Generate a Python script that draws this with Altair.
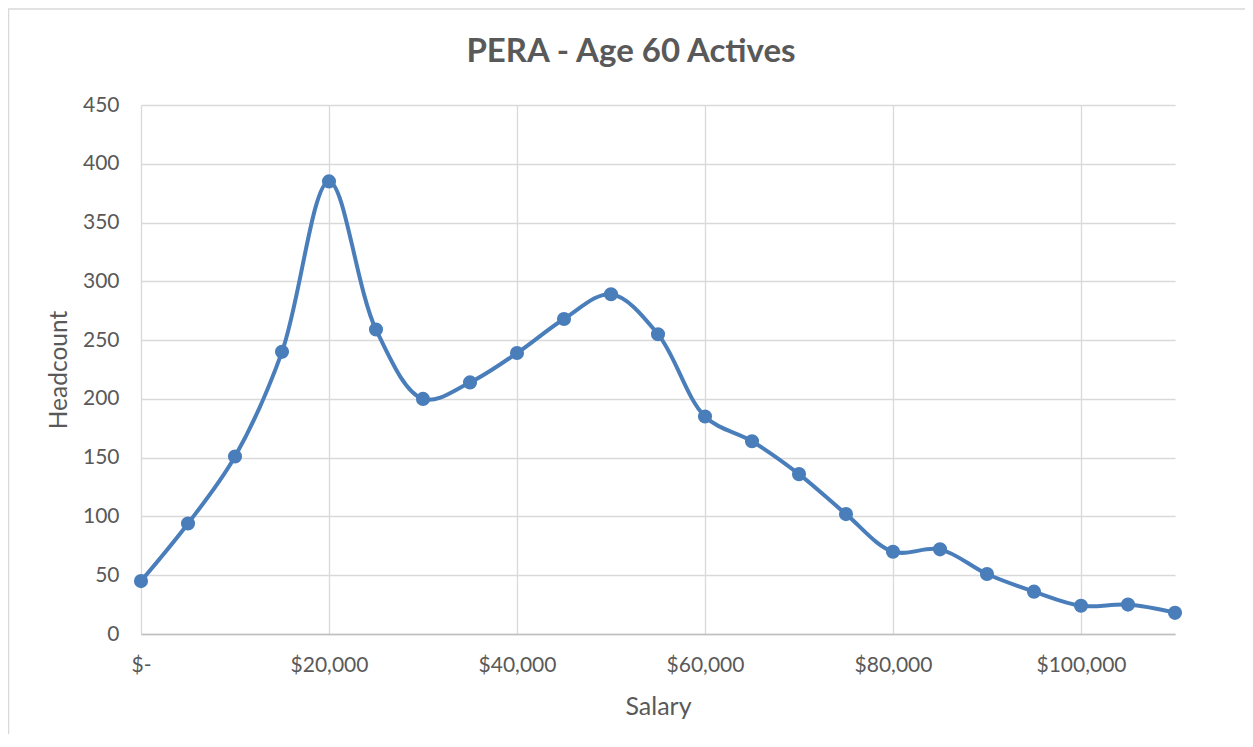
import altair as alt
import pandas as pd

salary = [0, 5000, 10000, 15000, 20000, 25000, 30000, 35000, 40000, 45000, 50000, 55000,
          60000, 65000, 70000, 75000, 80000, 85000, 90000, 95000, 100000, 105000, 110000]
headcount = [45, 94, 151, 240, 385, 259, 200, 214, 239, 268, 289, 255,
             185, 164, 136, 102, 70, 72, 51, 36, 24, 25, 18]
x_ticks = [0, 20000, 40000, 60000, 80000, 100000]
y_ticks = [0, 50, 100, 150, 200, 250, 300, 350, 400, 450]

df = pd.DataFrame({"Salary": salary, "Headcount": headcount})

FONT = "Lato"
GRAY = "#595959"
BLUE = "#4A7EBB"

W, H = 1034, 529

x = alt.X("Salary:Q",
          scale=alt.Scale(domain=[0, 110000], nice=False, zero=True),
          axis=alt.Axis(values=x_ticks, grid=True, gridColor="#D9D9D9", gridWidth=1.3,
                        domainColor="#BFBFBF", domainWidth=1.6, ticks=False, labelFlush=False,
                        labelExpr="datum.value == 0 ? '$-' : '$' + format(datum.value, ',')",
                        labelPadding=20, labelFontSize=21, labelColor=GRAY, labelFont=FONT,
                        title="Salary", titleFont=FONT, titleFontSize=25, titleFontWeight="normal",
                        titleColor=GRAY, titlePadding=19))
y = alt.Y("Headcount:Q",
          scale=alt.Scale(domain=[0, 450], nice=False),
          axis=alt.Axis(values=y_ticks, grid=True, gridColor="#D9D9D9", gridWidth=1.3,
                        domain=False, ticks=False, labelPadding=22, labelFontSize=21,
                        labelColor=GRAY, labelFont=FONT,
                        title="Headcount", titleFont=FONT, titleFontSize=24.5,
                        titleFontWeight="normal", titleColor=GRAY, titlePadding=11))

border = alt.Chart(pd.DataFrame({"a": [0]})).mark_rect(
    fillOpacity=0, stroke="#D9D9D9", strokeWidth=1.5, clip=False
).encode(x=alt.value(-132.5), x2=alt.value(1200), y=alt.value(-96), y2=alt.value(700))

line = alt.Chart(df).mark_line(interpolate="catmull-rom", color=BLUE, strokeWidth=4).encode(x=x, y=y)
pts = alt.Chart(df).mark_circle(color=BLUE, size=200, opacity=1).encode(x=x, y=y)

title = alt.Chart(pd.DataFrame({"t": ["PERA - Age 60 Actives"]})).mark_text(
    font=FONT, fontSize=33, fontWeight="bold", color=GRAY, align="center", baseline="middle"
).encode(text="t:N", x=alt.value(490), y=alt.value(-53))

chart = alt.layer(border, line, pts, title).properties(
    width=W, height=H,
    padding={"left": 133, "top": 97, "right": 70, "bottom": 100},
    autosize=alt.AutoSizeParams(type="none"),
    background="white",
).configure_view(stroke=None)

chart.save("out.html", embed_options={"renderer": "svg", "actions": False})
